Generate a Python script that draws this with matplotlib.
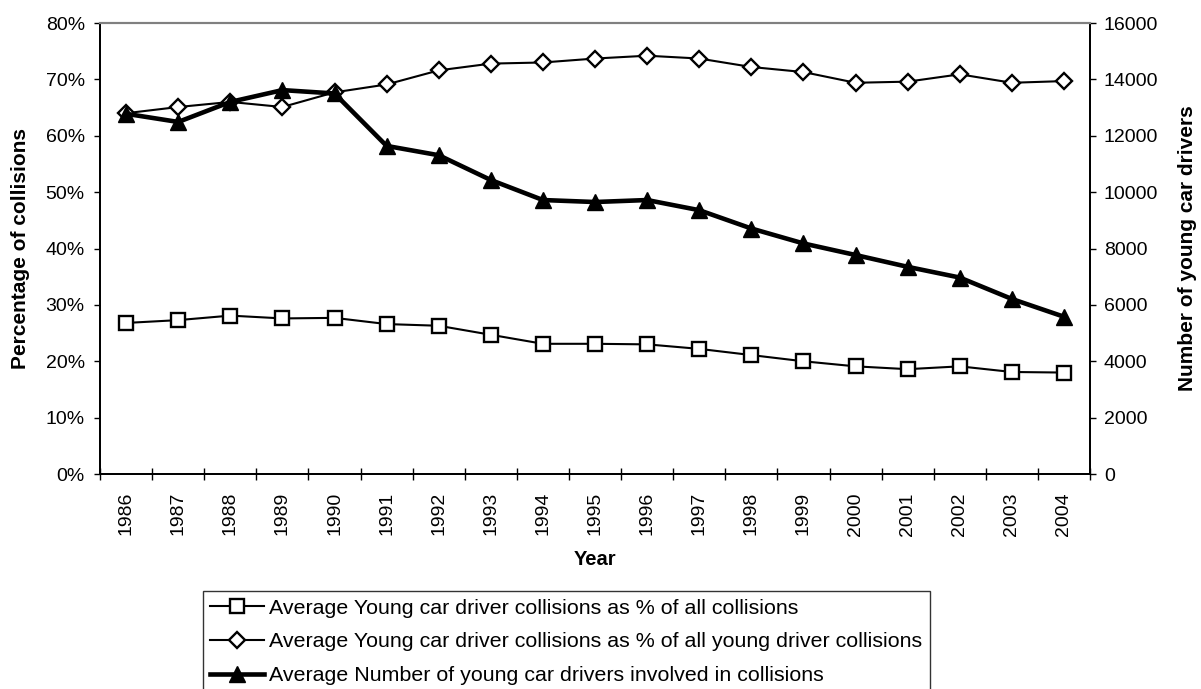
import numpy as np
import matplotlib
matplotlib.use('Agg')
import matplotlib.pyplot as plt
from matplotlib.ticker import FixedLocator, PercentFormatter

plt.rcParams['font.family'] = ['Liberation Sans', 'DejaVu Sans']

years = list(range(1986, 2005))
# % of all collisions
pct_all = [26.8, 27.3, 28.1, 27.6, 27.7, 26.6, 26.3, 24.7, 23.1, 23.1,
           23.0, 22.2, 21.1, 20.0, 19.1, 18.6, 19.1, 18.1, 18.0]
# % of all young driver collisions
pct_young = [64.0, 65.1, 66.0, 65.1, 67.7, 69.1, 71.6, 72.8, 73.0, 73.7,
             74.2, 73.7, 72.2, 71.3, 69.4, 69.6, 70.9, 69.4, 69.7]
# number of young car drivers involved
n_drivers = [12780, 12490, 13200, 13620, 13500, 11640, 11310, 10430, 9720, 9650,
             9720, 9360, 8710, 8180, 7770, 7350, 6970, 6210, 5580]

labels = ['Average Young car driver collisions as % of all collisions',
          'Average Young car driver collisions as % of all young driver collisions',
          'Average Number of young car drivers involved in collisions']

fig = plt.figure(figsize=(12.01, 6.89), dpi=100)
ax = fig.add_axes([0.0833, 0.312, 0.8243, 0.6546])
ax2 = ax.twinx()

x = np.arange(len(years))
l1, = ax.plot(x, pct_all, color='black', lw=1.5, marker='s', ms=10,
              mfc='white', mec='black', mew=1.7, zorder=3)
l2, = ax.plot(x, pct_young, color='black', lw=1.5, marker='D', ms=8.5,
              mfc='white', mec='black', mew=1.7, zorder=3)
l3, = ax2.plot(x, n_drivers, color='black', lw=3.3, marker='^', ms=11,
               mfc='black', mec='black', zorder=4)

ax.set_xlim(-0.5, len(years) - 0.5)
ax.set_ylim(0, 80)
ax2.set_ylim(0, 16000)
ax.yaxis.set_major_locator(FixedLocator(np.arange(0, 81, 10)))
ax.yaxis.set_major_formatter(PercentFormatter(decimals=0))
ax2.yaxis.set_major_locator(FixedLocator(np.arange(0, 16001, 2000)))

ax.set_xticks(np.arange(-0.5, len(years), 1.0))
ax.set_xticklabels([])
ax.set_xticks(x, minor=True)
ax.set_xticklabels([str(y) for y in years], minor=True, rotation=90, fontsize=14)
ax.tick_params(axis='x', which='major', direction='inout', length=9, width=1)
ax.tick_params(axis='x', which='minor', length=0, pad=13)
ax.tick_params(axis='y', direction='out', length=4, width=1, labelsize=14, pad=7)
ax2.tick_params(axis='y', direction='out', length=4, width=1, labelsize=14, pad=6)

for a in (ax, ax2):
    a.spines['top'].set_color('#808080')
    a.spines['top'].set_linewidth(1.5)
    for s in ('left', 'right', 'bottom'):
        a.spines[s].set_linewidth(1.3)

ax.set_xlabel('Year', fontsize=14.5, fontweight='bold', labelpad=10)
ax.set_ylabel('Percentage of collisions', fontsize=15, fontweight='bold', labelpad=11)
ax2.set_ylabel('Number of young car drivers', fontsize=15, fontweight='bold', labelpad=14)

leg = fig.legend([l1, l2, l3], labels, loc='upper left',
                 bbox_to_anchor=(0.169, 0.1422), fontsize=15.4, frameon=True,
                 fancybox=False, edgecolor='black', handlelength=2.5,
                 handletextpad=0.25, labelspacing=0.7, borderpad=0.35,
                 borderaxespad=0)
leg.get_frame().set_linewidth(1.0)

fig.savefig('out.png', dpi=100)
